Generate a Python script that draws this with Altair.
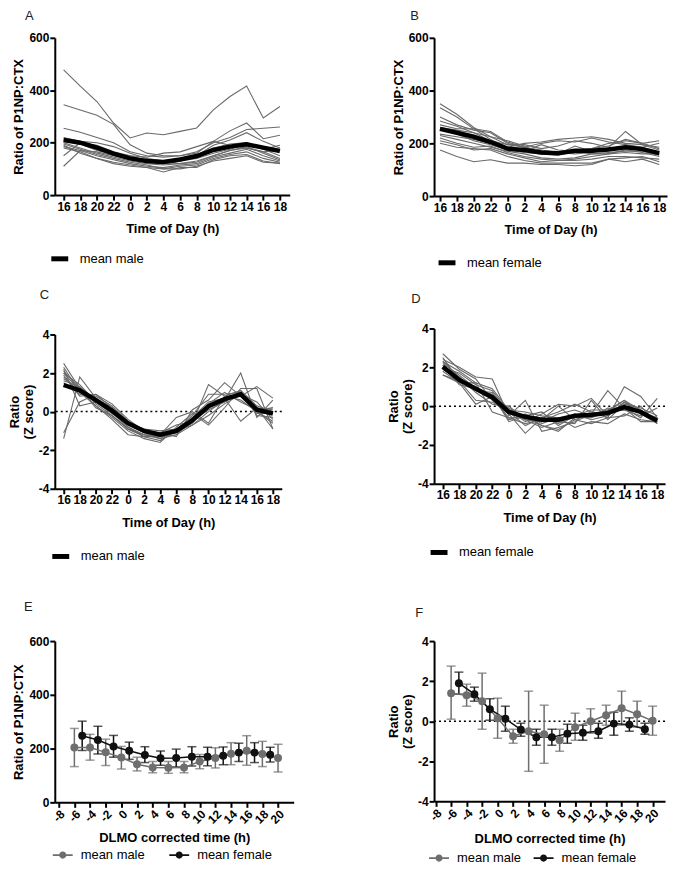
import altair as alt
import pandas as pd

FONT = "Liberation Sans"

hours = [16, 18, 20, 22, 0, 2, 4, 6, 8, 10, 12, 14, 16, 18]

# A: P1NP:CTX ratio, individual men
male_ratio = [
    [478, 416, 357, 275, 218, 237, 230, 243, 256, 325, 376, 416, 294, 338],
    [345, 325, 305, 270, 192, 160, 150, 150, 160, 205, 245, 275, 215, 228],
    [255, 240, 220, 200, 165, 150, 145, 150, 165, 200, 220, 250, 255, 260],
    [220, 205, 200, 185, 160, 140, 130, 130, 150, 190, 210, 238, 205, 180],
    [110, 170, 165, 150, 135, 125, 120, 130, 150, 180, 195, 200, 175, 190],
    [150, 200, 190, 165, 150, 130, 125, 120, 125, 150, 170, 185, 160, 135],
    [185, 170, 150, 135, 120, 110, 105, 115, 120, 145, 160, 175, 150, 130],
    [195, 175, 155, 140, 125, 115, 100, 110, 115, 140, 155, 165, 140, 125],
    [200, 180, 160, 145, 130, 120, 115, 120, 130, 150, 170, 180, 165, 140],
    [180, 165, 140, 120, 110, 105, 88, 105, 105, 135, 150, 155, 130, 120],
    [210, 195, 170, 155, 140, 130, 120, 130, 140, 160, 175, 195, 175, 150],
    [215, 200, 175, 160, 150, 145, 160, 165, 185, 205, 190, 180, 165, 170],
    [190, 160, 140, 125, 115, 105, 100, 100, 110, 130, 140, 150, 125, 122],
]
male_ratio_mean = [210, 200, 181, 158, 140, 130, 126, 136, 149, 172, 185, 194, 181, 168]

# B: P1NP:CTX ratio, individual women
female_ratio = [
    [350, 310, 260, 225, 195, 185, 175, 165, 175, 180, 190, 215, 200, 180],
    [335, 300, 255, 215, 185, 200, 205, 215, 220, 225, 215, 200, 195, 185],
    [300, 270, 250, 240, 200, 185, 200, 210, 205, 220, 205, 195, 185, 200],
    [285, 265, 240, 210, 195, 195, 180, 190, 210, 200, 185, 245, 195, 175],
    [270, 255, 255, 245, 205, 185, 165, 160, 190, 170, 175, 190, 180, 160],
    [255, 235, 210, 195, 175, 165, 160, 165, 160, 165, 180, 190, 185, 165],
    [235, 225, 215, 200, 185, 170, 195, 175, 170, 180, 200, 210, 200, 210],
    [220, 200, 185, 190, 165, 150, 140, 135, 140, 150, 160, 175, 165, 150],
    [210, 195, 175, 180, 160, 145, 130, 135, 135, 140, 150, 150, 145, 140],
    [200, 185, 180, 175, 150, 135, 125, 125, 125, 125, 140, 145, 150, 130],
    [175, 150, 130, 138, 125, 125, 120, 120, 115, 120, 140, 130, 140, 120],
    [230, 215, 200, 185, 170, 160, 145, 140, 145, 160, 160, 165, 160, 160],
    [260, 250, 240, 225, 210, 190, 160, 155, 170, 160, 165, 170, 170, 155],
]
female_ratio_mean = [255, 240, 225, 205, 180, 175, 165, 162, 172, 172, 177, 185, 178, 163]

# C: Z scores, men
male_z = [
    [2.5, 1.2, 0.6, 0.0, -0.8, -1.2, -1.3, -1.0, -0.2, 0.9, 0.9, 1.0, 0.0, -0.5],
    [-1.4, 1.8, 0.7, 0.2, -0.6, -1.1, -1.4, -1.2, -0.5, 0.3, 0.5, 1.0, 0.2, -0.9],
    [-1.1, 0.5, 0.9, 0.4, -0.4, -1.0, -1.1, -1.3, 0.1, 0.6, 1.5, 0.8, 1.3, 0.7],
    [2.2, 0.3, 0.5, 0.2, -0.8, -1.3, -1.5, -1.0, -0.6, 1.4, 0.8, 0.6, 0.0, 0.2],
    [2.0, 1.4, 0.5, -0.1, -0.7, -1.1, -1.2, -1.1, -0.4, 0.3, 0.6, 2.0, -0.3, 0.6],
    [2.1, 1.2, 0.4, -0.2, -0.9, -1.2, -1.4, -0.9, -0.3, 0.5, 0.7, -0.5, 0.2, 0.1],
    [1.8, 1.0, 0.8, 0.3, -0.5, -1.0, -1.2, -0.3, 0.0, -0.6, 0.8, 1.1, -0.2, -0.3],
    [1.6, 1.3, 0.5, 0.0, -0.9, -1.3, -1.3, -1.2, -0.7, -0.2, 0.4, 0.9, 0.5, -0.4],
    [2.3, 1.0, 0.3, -0.3, -1.0, -1.4, -1.6, -0.8, -0.1, -0.7, 0.2, 1.2, 1.2, -0.9],
    [1.5, 0.9, 0.7, 0.1, -0.7, -1.0, -1.1, -0.7, -0.5, 0.4, 1.0, 0.5, 0.1, 0.2],
    [2.0, 1.1, 0.3, -0.4, -1.2, -1.3, -1.2, -1.0, -0.7, 0.0, 0.6, 0.9, -0.1, -0.1],
    [1.9, 0.8, 0.9, 0.2, -0.6, -0.9, -1.0, -0.9, -0.5, 0.1, 0.5, 1.1, 0.3, 0.0],
    [1.7, 1.2, 0.2, -0.2, -0.9, -1.2, -1.3, -1.1, -0.6, 0.3, 0.6, 1.0, 0.0, -0.6],
]
male_z_mean = [1.38, 1.1, 0.6, 0.05, -0.6, -1.0, -1.2, -1.0, -0.45, 0.28, 0.65, 0.9, 0.1, -0.1]

# D: Z scores, women
female_z = [
    [2.7, 1.9, 1.4, 0.3, -0.4, -1.4, -0.6, -0.3, 0.1, -0.3, -0.6, 1.0, 0.5, -0.6],
    [2.4, 2.0, 1.5, 1.4, -0.5, 0.3, -1.3, -1.1, -0.8, -0.4, 0.8, -0.1, -0.6, 0.4],
    [2.3, 1.8, 1.2, 0.9, -0.2, -0.8, -0.4, 0.1, 0.0, 0.4, -0.5, 0.2, -0.2, -0.8],
    [2.1, 1.5, 0.8, 0.6, -0.8, -0.5, -1.0, -1.3, -0.6, -0.6, -0.3, 0.3, -0.2, -0.7],
    [1.6, 1.3, 0.3, 0.2, -0.3, -0.7, -0.8, -0.6, -1.1, -0.8, -0.9, -0.4, -0.7, -0.8],
    [1.6, 1.2, 1.2, -0.3, -0.6, -0.6, -1.0, -1.2, -0.7, -0.9, -0.6, -0.5, 0.0, -0.9],
    [2.2, 1.6, 0.9, 0.4, -0.1, -0.6, -0.8, -0.4, -0.2, -0.5, -0.3, -0.2, -0.5, -0.1],
    [1.9, 1.4, 0.8, 0.7, -0.4, -0.5, -0.3, -1.0, -0.5, -0.2, -0.2, 0.0, -0.3, -0.6],
    [2.5, 1.3, 1.0, 0.5, -0.7, -0.4, -0.9, -0.6, -0.6, -0.3, -0.4, -0.1, -0.8, -0.8],
    [2.0, 1.7, 1.1, 0.8, -0.3, -1.0, -0.6, -0.9, -0.4, -0.7, -0.5, 0.2, -0.4, -0.6],
    [1.8, 1.2, 0.1, 0.5, -0.6, -0.9, -0.7, 0.0, -0.7, -0.4, -0.2, 0.3, -0.4, -0.9],
    [2.3, 1.5, 0.7, 0.1, 0.0, -0.7, -1.1, -0.8, -0.9, 0.3, -0.7, 0.1, -0.1, -0.5],
    [2.1, 1.1, 0.9, 0.6, -0.2, -0.3, -0.5, -0.6, -0.5, -0.6, -0.1, -0.2, -0.3, -0.7],
]
female_z_mean = [2.03, 1.35, 0.9, 0.45, -0.3, -0.55, -0.7, -0.7, -0.5, -0.45, -0.35, -0.05, -0.3, -0.75]

# E/F: DLMO corrected time
dlmo_male_t = [-6, -4, -2, 0, 2, 4, 6, 8, 10, 12, 14, 16, 18, 20]
dlmo_female_t = [-5, -3, -1, 1, 3, 5, 7, 9, 11, 13, 15, 17, 19]

e_male = [204, 204, 186, 167, 142, 130, 129, 130, 152, 165, 181, 192, 180, 165]
e_male_lo = [133, 157, 137, 124, 117, 110, 108, 110, 125, 128, 140, 138, 133, 113]
e_male_hi = [275, 253, 235, 208, 168, 152, 152, 152, 178, 203, 222, 248, 227, 216]
e_female = [248, 232, 208, 192, 176, 164, 165, 170, 170, 173, 185, 185, 177]
e_female_lo = [193, 180, 168, 160, 148, 138, 132, 135, 136, 140, 152, 148, 150]
e_female_hi = [302, 283, 249, 224, 207, 191, 198, 207, 205, 206, 220, 222, 205]

f_male = [1.4, 1.3, 1.0, 0.15, -0.75, -0.5, -0.65, -0.95, -0.3, 0.0, 0.3, 0.65, 0.35, 0.02]
f_male_lo = [0.1, 0.75, -0.4, -0.85, -1.1, -2.5, -2.1, -1.5, -0.95, -0.6, -0.2, -0.2, -0.3, -0.7]
f_male_hi = [2.75, 1.85, 2.4, 1.15, -0.4, 1.5, 0.8, -0.4, 0.4, 0.62, 0.8, 1.5, 1.0, 0.75]
f_female = [1.9, 1.35, 0.6, 0.12, -0.42, -0.8, -0.8, -0.62, -0.57, -0.5, -0.12, -0.17, -0.4]
f_female_lo = [1.35, 1.0, 0.05, -0.5, -0.75, -1.2, -1.2, -1.1, -0.95, -0.85, -0.7, -0.5, -0.65]
f_female_hi = [2.45, 1.7, 1.12, 0.75, -0.1, -0.4, -0.4, -0.15, -0.2, -0.1, 0.45, 0.17, -0.1]

hour_expr = "[" + ",".join("'%d'" % h for h in hours) + "][datum.value]"
num_expr = "'' + datum.value"
RATIO = "Ratio of P1NP:CTX"
ZSCORE = ["Ratio", "(Z score)"]


def letter_title(letter, dx, offset):
    return alt.TitleParams(letter, anchor="start", frame="group", dx=dx, offset=offset,
                           fontSize=13, fontWeight="normal", font=FONT, color="#222")


def zero_rule():
    return alt.Chart(pd.DataFrame({"value": [0]})).mark_rule(
        color="black", strokeWidth=1.5, strokeDash=[2, 3]
    ).encode(y="value:Q")


def time_panel(lines, mean, label, y_title, y_dom, y_vals, letter, w, h, x_dom,
               leg_x, leg_y, leg_pad, dx, offset, zero=False):
    indiv = pd.DataFrame([{"subject": k, "i": i, "value": v}
                          for k, s in enumerate(lines) for i, v in enumerate(s)])
    avg = pd.DataFrame({"i": list(range(len(mean))), "value": mean, "group": label})
    x = alt.X("i:Q", title="Time of Day (h)",
              scale=alt.Scale(domain=x_dom, nice=False, zero=False),
              axis=alt.Axis(values=list(range(len(hours))), labelExpr=hour_expr,
                            labelAngle=0, labelOverlap=False, titlePadding=11))
    y = alt.Y("value:Q", title=y_title,
              scale=alt.Scale(domain=y_dom, nice=False, zero=False),
              axis=alt.Axis(values=y_vals, labelExpr=num_expr))
    layers = []
    if zero:
        layers.append(zero_rule().encode(y=y))
    layers.append(alt.Chart(indiv).mark_line(color="#6a6a6a", strokeWidth=1.1).encode(
        x=x, y=y, detail="subject:N"))
    layers.append(alt.Chart(avg).mark_line(strokeWidth=4.5).encode(
        x=x, y=y,
        stroke=alt.Stroke("group:N", scale=alt.Scale(domain=[label], range=["black"]),
                          legend=alt.Legend(title=None, orient="none", legendX=leg_x - leg_pad,
                                            legendY=leg_y - leg_pad, padding=leg_pad,
                                            symbolType="M-1,0H1", symbolSize=289,
                                            symbolStrokeWidth=5, labelOffset=9,
                                            labelFont=FONT, labelFontSize=13,
                                            labelColor="black"))))
    return alt.layer(*layers).properties(width=w, height=h, title=letter_title(letter, dx, offset))


def dlmo_panel(m_v, m_lo, m_hi, f_v, f_lo, f_hi, y_title, y_dom, y_vals, letter, w, h,
               x_dom, leg_x, leg_y, col_pad, dx, offset, x_pad, zero=False):
    groups = ["mean male", "mean female"]
    colors = ["#6e6e6e", "#111111"]
    df = pd.concat([
        pd.DataFrame({"t": dlmo_male_t, "value": m_v, "lo": m_lo, "hi": m_hi, "group": groups[0]}),
        pd.DataFrame({"t": dlmo_female_t, "value": f_v, "lo": f_lo, "hi": f_hi, "group": groups[1]}),
    ])
    df["key"] = df["group"]
    x = alt.X("t:Q", title="DLMO corrected time (h)",
              scale=alt.Scale(domain=x_dom, nice=False, zero=False),
              axis=alt.Axis(values=list(range(-8, 21, 2)), labelExpr=num_expr,
                            labelAngle=-45, labelOverlap=False, titlePadding=x_pad))
    y = alt.Y("value:Q", title=y_title,
              scale=alt.Scale(domain=y_dom, nice=False, zero=False),
              axis=alt.Axis(values=y_vals, labelExpr=num_expr))
    stroke = alt.Stroke("group:N", scale=alt.Scale(domain=groups, range=colors), legend=None)
    cap_color = alt.Color("group:N", scale=alt.Scale(domain=groups, range=colors), legend=None)
    base = alt.Chart(df)
    layers = []
    if zero:
        layers.append(zero_rule().encode(y=y))
    layers += [
        base.mark_rule(strokeWidth=1.5).encode(x=x, y=alt.Y("lo:Q"), y2="hi:Q", stroke=stroke),
        base.mark_tick(size=9, thickness=1.5, orient="horizontal").encode(
            x=x, y=alt.Y("lo:Q"), color=cap_color),
        base.mark_tick(size=9, thickness=1.5, orient="horizontal").encode(
            x=x, y=alt.Y("hi:Q"), color=cap_color),
        base.mark_line(strokeWidth=1.5).encode(x=x, y=y, stroke=stroke),
        base.mark_point(filled=True, size=64, opacity=1).encode(
            x=x, y=y,
            fill=alt.Fill("key:N", sort=groups, scale=alt.Scale(range=colors),
                          legend=alt.Legend(title=None, orient="none", direction="horizontal",
                                            legendX=leg_x, legendY=leg_y,
                                            symbolType="M-1,-0.08H1V0.08H-1Z M0.36,0A0.36,0.36 0 1,1 -0.36,0A0.36,0.36 0 1,1 0.36,0Z",
                                            symbolSize=400, symbolStrokeWidth=0, labelOffset=8,
                                            columnPadding=col_pad, labelFont=FONT,
                                            labelFontSize=13, labelColor="black"))),
    ]
    return alt.layer(*layers).properties(width=w, height=h, title=letter_title(letter, dx, offset))


def independent(c):
    return c.resolve_scale(stroke="independent", fill="independent", color="independent",
                           x="independent", y="independent").resolve_legend(
        stroke="independent", fill="independent", color="independent")


panel_a = time_panel(male_ratio, male_ratio_mean, "mean male", RATIO, [0, 600], [0, 200, 400, 600],
                     "A", 236, 158, [-0.53, 13.59], -6, 211, 0, -30, 9)
panel_c = time_panel(male_z, male_z_mean, "mean male", ZSCORE, [-4, 4], [-4, -2, 0, 2, 4],
                     "C", 228, 155, [-0.55, 13.55], -5, 212, 15, -15, 27, zero=True)
panel_e = dlmo_panel(e_male, e_male_lo, e_male_hi, e_female, e_female_lo, e_female_hi,
                     RATIO, [0, 600], [0, 200, 400, 600], "E", 240, 162, [-8.5, 22],
                     -2, 205, 24, -31, 21, 6)

panel_b = time_panel(female_ratio, female_ratio_mean, "mean female", RATIO, [0, 600], [0, 200, 400, 600],
                     "B", 234, 159, [-0.35, 13.46], 2, 215, 0, -24, 9)
panel_d = time_panel(female_z, female_z_mean, "mean female", ZSCORE, [-4, 4], [-4, -2, 0, 2, 4],
                     "D", 232, 156, [-0.53, 13.47], -6, 214, 25, -23, 17, zero=True)
panel_f = dlmo_panel(f_male, f_male_lo, f_male_hi, f_female, f_female_lo, f_female_hi,
                     ZSCORE, [-4, 4], [-4, -2, 0, 2, 4], "F", 232, 161, [-8.2, 21.6],
                     -5, 208, 12, -19, 15, 8, zero=True)

left = independent(alt.vconcat(panel_a, panel_c, panel_e, spacing=20))
right = independent(alt.vconcat(panel_b, panel_d, panel_f, spacing=20))

chart = independent(alt.hconcat(left, right, spacing=94)).properties(
    padding={"left": 0, "top": 0, "right": 0, "bottom": 0}
).configure_view(
    stroke=None
).configure_axis(
    grid=False,
    domainColor="black",
    domainWidth=2,
    tickColor="black",
    tickWidth=2,
    tickSize=5,
    labelFont=FONT,
    labelFontSize=12,
    labelFontWeight="bold",
    labelColor="black",
    labelPadding=1,
    titleFont=FONT,
    titleFontSize=13,
    titleFontWeight="bold",
    titleColor="black",
    titlePadding=3,
    titleLineHeight=14,
)

chart.save("out.html", embed_options={"renderer": "svg", "actions": False})
